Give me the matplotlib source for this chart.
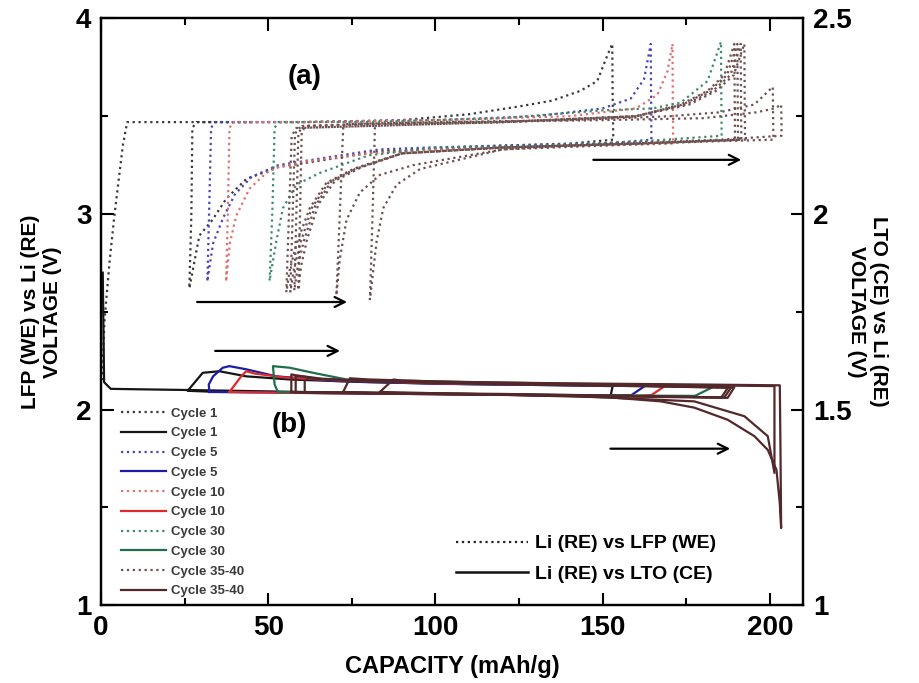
import matplotlib
matplotlib.use('Agg')
import matplotlib.pyplot as plt
from matplotlib.ticker import MultipleLocator

plt.rcParams['font.family'] = ['Liberation Sans', 'DejaVu Sans']
plt.rcParams['font.weight'] = 'bold'
plt.rcParams['axes.labelweight'] = 'bold'

# ---- LFP (WE) vs Li (RE), dotted, left axis: capacity (mAh/g), voltage (V)
lfp_c1_x = [0.3, 1.0, 2.5, 3.9, 6.5, 7.8, 30, 60, 90, 110, 125, 135, 143.4, 148.4, 151.4, 152.9, 153.0, 153.2,
            140, 120, 98, 83, 68, 53, 43.5, 37.5, 33.3, 29.4, 26.4, 27.0, 27.3, 28.5, 45]
lfp_c1_v = [2.15, 2.45, 2.75, 2.98, 3.35, 3.47, 3.47, 3.47, 3.48, 3.51, 3.55, 3.58, 3.63, 3.68, 3.81, 3.87, 3.60, 3.38,
            3.36, 3.35, 3.33, 3.32, 3.28, 3.24, 3.18, 3.08, 2.97, 2.89, 2.62, 3.00, 3.44, 3.47, 3.47]

lfp_c5_x = [31.8, 32.3, 32.9, 34, 60, 100, 130, 150, 158.4, 162.4, 164.4, 164.5, 164.6,
            150, 120, 98, 83, 68, 53, 45, 40, 36.5, 33.5, 31.8]
lfp_c5_v = [2.66, 3.00, 3.44, 3.47, 3.47, 3.48, 3.50, 3.54, 3.59, 3.69, 3.87, 3.60, 3.38,
            3.36, 3.35, 3.34, 3.33, 3.29, 3.25, 3.19, 3.10, 2.98, 2.85, 2.66]

lfp_c10_x = [37.4, 37.9, 38.4, 39.5, 60, 100, 140, 160, 166.4, 169.4, 170.9, 171.0, 171.1,
             150, 120, 100, 80, 62, 53, 49.4, 44.4, 40.4, 38.5, 37.4]
lfp_c10_v = [2.66, 3.00, 3.44, 3.47, 3.47, 3.48, 3.50, 3.54, 3.61, 3.73, 3.87, 3.60, 3.36,
             3.35, 3.34, 3.33, 3.31, 3.27, 3.24, 3.21, 3.13, 2.99, 2.85, 2.66]

lfp_c30_x = [50.4, 51.2, 51.9, 53, 80, 120, 150, 165, 173.4, 181.4, 185.4, 185.5, 185.6,
             160, 130, 100, 80, 65.4, 58.4, 54.4, 52.4, 50.4]
lfp_c30_v = [2.66, 3.00, 3.44, 3.47, 3.47, 3.49, 3.53, 3.54, 3.57, 3.68, 3.88, 3.60, 3.40,
             3.37, 3.35, 3.34, 3.30, 3.21, 3.15, 3.03, 2.86, 2.66]

lfp_c35a_x = [55.4, 56.2, 57.0, 58.4, 80, 120, 160, 173.4, 181.4, 186.4, 189.4, 189.5, 189.6,
              160, 120, 90, 75.4, 67.4, 62.4, 58.5, 56.5, 55.4]
lfp_c35a_v = [2.60, 3.00, 3.40, 3.44, 3.45, 3.47, 3.50, 3.56, 3.63, 3.71, 3.87, 3.60, 3.38,
              3.36, 3.34, 3.31, 3.23, 3.16, 3.03, 2.85, 2.72, 2.60]
lfp_c35b_x = [56.6, 57.3, 58.0, 59.2, 80, 120, 160, 174, 182, 187.2, 190.3, 190.4, 190.5,
              160, 120, 90, 76, 68, 63, 59.6, 57.7, 56.6]
lfp_c35b_v = [2.60, 3.00, 3.41, 3.44, 3.45, 3.47, 3.50, 3.56, 3.63, 3.71, 3.87, 3.60, 3.38,
              3.36, 3.34, 3.31, 3.23, 3.16, 3.03, 2.85, 2.72, 2.60]
lfp_c35c_x = [57.8, 58.4, 59.0, 60.2, 80, 120, 160, 175, 183, 188.2, 191.3, 191.4, 191.5,
              160, 120, 90, 77, 69, 64, 60.6, 58.8, 57.8]
lfp_c35c_v = [2.61, 3.00, 3.41, 3.45, 3.46, 3.47, 3.50, 3.56, 3.63, 3.71, 3.87, 3.60, 3.38,
              3.36, 3.34, 3.31, 3.24, 3.17, 3.04, 2.86, 2.73, 2.61]
lfp_c35d_x = [59.0, 59.5, 60.0, 61.2, 80, 120, 160, 176, 184, 189.2, 192.4, 192.5, 192.6,
              160, 120, 90, 78, 70, 65, 61.6, 59.9, 59.0]
lfp_c35d_v = [2.62, 3.00, 3.42, 3.45, 3.46, 3.47, 3.50, 3.56, 3.63, 3.71, 3.87, 3.60, 3.38,
              3.36, 3.34, 3.31, 3.24, 3.17, 3.05, 2.87, 2.74, 2.62]
lfp_c35e_x = [70.4, 71.4, 72.4, 73.5, 100, 140, 170, 185, 195.4, 200.9, 201.0, 201.1,
              180, 150, 120, 93.4, 83.4, 77.4, 73.4, 71.4, 70.4]
lfp_c35e_v = [2.59, 3.00, 3.44, 3.46, 3.47, 3.48, 3.50, 3.52, 3.56, 3.65, 3.50, 3.38,
              3.37, 3.35, 3.33, 3.25, 3.20, 3.11, 2.97, 2.77, 2.59]
lfp_c35f_x = [80.4, 81.2, 81.9, 83, 110, 150, 180, 196, 201.5, 203.4, 203.5, 203.5,
              185, 150, 120, 95.4, 88.4, 84.4, 82.4, 80.4]
lfp_c35f_v = [2.56, 3.00, 3.44, 3.46, 3.47, 3.48, 3.49, 3.52, 3.54, 3.56, 3.48, 3.40,
              3.38, 3.36, 3.33, 3.23, 3.15, 3.03, 2.86, 2.56]

# ---- LTO (CE) vs Li (RE), solid, right axis
lto_c1_x = [0.5, 0.9, 2.9, 10, 26, 60, 100, 130, 150, 152.4, 153, 140, 110, 80, 56.4, 43.4, 35.4, 30.4, 25.9, 32]
lto_c1_v = [1.85, 1.57, 1.553, 1.552, 1.550, 1.545, 1.540, 1.537, 1.535, 1.535, 1.560, 1.562, 1.565, 1.570,
            1.577, 1.585, 1.598, 1.594, 1.548, 1.546]

lto_c5_x = [32.4, 45, 80, 120, 150, 158.6, 162.6, 140, 100, 70, 52.4, 43.4, 38.4, 36.4, 33.5, 32.2, 32.4]
lto_c5_v = [1.545, 1.544, 1.541, 1.538, 1.535, 1.537, 1.560, 1.562, 1.566, 1.573, 1.585, 1.603, 1.611, 1.607,
            1.585, 1.564, 1.545]

lto_c10_x = [38.4, 55, 90, 130, 160, 164.6, 168.6, 140, 100, 70, 55, 46, 43.4, 41.9, 38.4]
lto_c10_v = [1.545, 1.543, 1.540, 1.537, 1.535, 1.537, 1.560, 1.563, 1.567, 1.575, 1.582, 1.592, 1.598, 1.585,
             1.545]

lto_c30_x = [52.9, 70, 110, 150, 177.6, 183.6, 150, 110, 83.4, 73.4, 63.4, 56.4, 51.4, 51.9, 52.9]
lto_c30_v = [1.545, 1.543, 1.540, 1.536, 1.535, 1.560, 1.562, 1.567, 1.573, 1.577, 1.594, 1.607, 1.611, 1.564,
             1.545]

lto_c35a_x = [56.9, 80, 120, 160, 185.5, 187.5, 160, 120, 80, 65, 58, 56.9, 56.9]
lto_c35a_v = [1.545, 1.543, 1.540, 1.535, 1.531, 1.556, 1.560, 1.565, 1.572, 1.578, 1.588, 1.590, 1.545]
lto_c35b_x = [58.2, 80, 120, 160, 186.4, 188.4, 160, 120, 80, 66, 59.5, 58.2, 58.2]
lto_c35b_v = [1.544, 1.542, 1.539, 1.534, 1.531, 1.556, 1.561, 1.566, 1.573, 1.579, 1.586, 1.586, 1.544]
lto_c35c_x = [59.6, 80, 120, 160, 187.4, 189.4, 160, 120, 85, 70, 62, 60.9, 60.9, 59.6]
lto_c35c_v = [1.543, 1.541, 1.538, 1.533, 1.530, 1.557, 1.561, 1.566, 1.572, 1.576, 1.580, 1.573, 1.545, 1.543]
lto_c35d_x = [72.4, 100, 140, 177.4, 192.4, 199.4, 201.4, 201.4, 180, 140, 100, 80, 74.4, 72.4]
lto_c35d_v = [1.545, 1.540, 1.535, 1.521, 1.483, 1.432, 1.338, 1.560, 1.562, 1.566, 1.572, 1.577, 1.580, 1.545]
lto_c35e_x = [83.4, 110, 152.4, 167.4, 177.4, 187.4, 195.4, 199.4, 202, 203, 203.4, 203.2, 203, 180, 140,
              110, 90, 87.4, 83.4]
lto_c35e_v = [1.545, 1.540, 1.531, 1.521, 1.505, 1.474, 1.432, 1.397, 1.346, 1.260, 1.197, 1.400, 1.562,
              1.564, 1.567, 1.570, 1.574, 1.577, 1.545]

labels = ['Cycle 1', 'Cycle 5', 'Cycle 10', 'Cycle 30', 'Cycle 35-40']
dot_colors = ['#3a3a3a', '#4646b4', '#e07070', '#3c8c6c', '#6e5050']
line_colors = ['#151515', '#1c1ca8', '#de2a2a', '#1f6e4c', '#52282a']

lfp_groups = [
    [(lfp_c1_x, lfp_c1_v)],
    [(lfp_c5_x, lfp_c5_v)],
    [(lfp_c10_x, lfp_c10_v)],
    [(lfp_c30_x, lfp_c30_v)],
    [(lfp_c35a_x, lfp_c35a_v), (lfp_c35b_x, lfp_c35b_v), (lfp_c35c_x, lfp_c35c_v),
     (lfp_c35d_x, lfp_c35d_v), (lfp_c35e_x, lfp_c35e_v), (lfp_c35f_x, lfp_c35f_v)],
]
lto_groups = [
    [(lto_c1_x, lto_c1_v)],
    [(lto_c5_x, lto_c5_v)],
    [(lto_c10_x, lto_c10_v)],
    [(lto_c30_x, lto_c30_v)],
    [(lto_c35a_x, lto_c35a_v), (lto_c35b_x, lto_c35b_v), (lto_c35c_x, lto_c35c_v),
     (lto_c35d_x, lto_c35d_v), (lto_c35e_x, lto_c35e_v)],
]

fig = plt.figure(figsize=(9.19, 6.83), dpi=100)
ax = fig.add_axes([0.110, 0.114, 0.764, 0.859])
ax2 = ax.twinx()

handles = []
for i, label in enumerate(labels):
    h_dot = None
    for x, v in lfp_groups[i]:
        ln, = ax.plot(x, v, ls=':', lw=1.6, color=dot_colors[i])
        h_dot = h_dot or ln
    h_line = None
    for x, v in lto_groups[i]:
        ln, = ax2.plot(x, v, ls='-', lw=1.6, color=line_colors[i])
        h_line = h_line or ln
    handles += [h_dot, h_line]
names = [l for l in labels for _ in range(2)]

ax.set_xlim(0, 210)
ax.set_ylim(1, 4)
ax2.set_ylim(1, 2.5)
ax.xaxis.set_major_locator(MultipleLocator(50))
ax.xaxis.set_minor_locator(MultipleLocator(25))
ax.yaxis.set_major_locator(MultipleLocator(1))
ax.yaxis.set_minor_locator(MultipleLocator(0.5))
ax2.yaxis.set_major_locator(MultipleLocator(0.5))
ax2.yaxis.set_minor_locator(MultipleLocator(0.25))

for a in (ax, ax2):
    for s in a.spines.values():
        s.set_linewidth(1.6)
ax.tick_params(which='both', direction='in', width=1.5, labelsize=20, top=True, right=False, pad=7)
ax.tick_params(which='major', length=9)
ax.tick_params(which='minor', length=5)
ax2.tick_params(which='both', direction='in', width=1.5, labelsize=20, pad=7)
ax2.tick_params(which='major', length=9)
ax2.tick_params(which='minor', length=5)
ax2.yaxis.set_major_formatter(plt.FuncFormatter(lambda v, p: f'{v:g}'))

ax.set_xlabel('CAPACITY (mAh/g)', fontsize=17, labelpad=10)
ax.set_ylabel('LFP (WE) vs Li (RE)\nVOLTAGE (V)', fontsize=15, labelpad=10)
ax2.set_ylabel('LTO (CE) vs Li (RE)\nVOLTAGE (V)', fontsize=15, rotation=270, labelpad=26)

ax.text(61, 3.70, '(a)', fontsize=20, fontweight='bold', ha='center', va='center')
ax.text(56.4, 1.92, '(b)', fontsize=20, fontweight='bold', ha='center', va='center')

arrows = [((27.9, 2.55), (74.4, 2.55)), ((33.3, 2.30), (72.3, 2.30)),
          ((146.4, 3.277), (192.3, 3.277)), ((151.5, 1.80), (189.0, 1.80))]
for start, end in arrows:
    ax.annotate('', xy=end, xytext=start,
                arrowprops=dict(arrowstyle='->', lw=1.6, color='black', mutation_scale=18))

leg1 = ax2.legend(handles, names, loc='upper left', bbox_to_anchor=(0.029, 0.337), frameon=False,
                  fontsize=9.5, handlelength=3.4, handletextpad=0.35, labelspacing=0.57,
                  borderpad=0, borderaxespad=0)
for t in leg1.get_texts():
    t.set_color('#3a3a3a')
ax2.add_artist(leg1)

h_a, = ax.plot([], [], ls=':', lw=1.6, color='#222222')
h_b, = ax.plot([], [], ls='-', lw=1.8, color='#111111')
ax2.legend([h_a, h_b], ['Li (RE) vs LFP (WE)', 'Li (RE) vs LTO (CE)'], loc='upper left',
           bbox_to_anchor=(0.505, 0.12), frameon=False, fontsize=14, handlelength=3.7,
           handletextpad=0.4, labelspacing=0.66, borderpad=0, borderaxespad=0)

fig.savefig('out.png', dpi=100)
